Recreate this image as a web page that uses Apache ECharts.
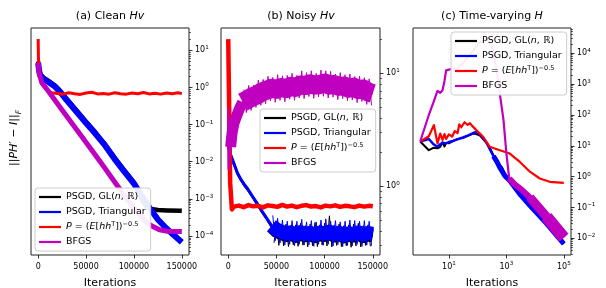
<!DOCTYPE html>
<html>
<head>
<meta charset="utf-8">
<script src="https://cdn.jsdelivr.net/npm/echarts@6/dist/echarts.min.js"></script>
<style>
  html, body { margin: 0; padding: 0; background: #fff; }
  #chart { width: 606px; height: 288px; }
</style>
</head>
<body>
<div id="chart"></div>
<script>
// ---- names / tick labels ----
const names = ['PSGD, GL(n, R)', 'PSGD, Triangular', 'P = (E[hh^T])^-0.5', 'BFGS'];
const iterTicks = [0, 50000, 100000, 150000];
const aYTicks = [1e-4, 1e-3, 1e-2, 1e-1, 1, 10];
const bTwinTicks = [1, 10];
const cYTicks = [1e-2, 1e-1, 1, 10, 100, 1000, 10000];
const cXTicks = [10, 1000, 100000];

// ---- (a) Clean Hv ----
const aBlackX = [0, 1000, 2100, 5500, 10700, 17600, 22800, 27900, 38300, 50000, 59000, 70000, 79700, 90000, 100400, 105000, 109000, 113000, 118000, 125000, 135000, 150000];
const aBlackY = [5.0, 3.1, 2.3, 1.85, 1.5, 1.12, 0.82, 0.56, 0.27, 0.12, 0.065, 0.029, 0.013, 0.0058, 0.0027, 0.0015, 0.00088, 0.00063, 0.00054, 0.0005, 0.00049, 0.00048];
const aBlueX = [0, 1000, 2100, 5500, 10700, 17600, 22800, 27900, 38300, 50000, 59000, 70000, 79700, 90000, 100400, 110000, 118000, 125000, 132000, 140000, 150000];
const aBlueY = [4.5, 2.8, 2.1, 1.7, 1.4, 1.05, 0.76, 0.52, 0.25, 0.11, 0.06, 0.027, 0.012, 0.0054, 0.0025, 0.001, 0.0005, 0.00028, 0.00018, 0.000115, 0.000068];
const aRedX = [0, 300, 1000, 2100, 4500, 7200, 10500, 14000, 20000, 26000, 32000, 38000, 44000, 50000, 56000, 62000, 68000, 74000, 80000, 86000, 92000, 98000, 104000, 110000, 116000, 122000, 128000, 134000, 140000, 146000, 150000];
const aRedY = [20, 5.7, 3.2, 2.0, 1.3, 0.98, 0.82, 0.72, 0.69, 0.66, 0.72, 0.68, 0.65, 0.71, 0.74, 0.67, 0.69, 0.66, 0.72, 0.68, 0.66, 0.71, 0.68, 0.73, 0.67, 0.7, 0.66, 0.71, 0.68, 0.72, 0.68];
const aBfgsX = [0, 1000, 3700, 10700, 24400, 45100, 65800, 83100, 95500, 105900, 112800, 118300, 126600, 135000, 150000];
const aBfgsY = [4.6, 2.5, 1.35, 0.79, 0.26, 0.049, 0.0093, 0.0022, 0.00079, 0.00038, 0.00024, 0.00019, 0.000148, 0.000135, 0.000132];

// ---- (b) Noisy Hv : mean curves ----
const bIterX = [0, 600, 1500, 3400, 6000, 9600, 13000, 16900, 20000, 25000, 30000, 35000, 40000,
  45000, 50000, 55000, 60000, 65000, 70000, 75000, 80000, 85000, 90000, 95000,
  100000, 105000, 110000, 115000, 120000, 125000, 130000, 135000, 140000, 145000, 150000];
const bBlackY = [0.048, 0.024, 0.017, 0.013, 0.0085, 0.0048, 0.0033, 0.0023, 0.0018, 0.00115, 0.00072, 0.00045, 0.00029,
  0.00018, 0.000135, 0.000117, 0.000104, 0.000112, 0.000098, 0.000113, 0.000102, 0.000108, 0.000097, 0.00011,
  0.000104, 0.000117, 0.0001, 0.00011, 0.000095, 0.000106, 0.0001, 0.000112, 0.000097, 0.000107, 0.000102];
const bBlueY = [0.05, 0.025, 0.0178, 0.0135, 0.0089, 0.005, 0.0034, 0.0024, 0.0019, 0.0012, 0.00076, 0.00047, 0.0003,
  0.00019, 0.000151, 0.000132, 0.000118, 0.000126, 0.00011, 0.000128, 0.000115, 0.000122, 0.000108, 0.000125,
  0.000118, 0.000132, 0.000112, 0.000124, 0.000106, 0.000119, 0.000113, 0.000127, 0.000109, 0.000121, 0.000115];
const bRedX = [0, 2000, 3800, 6000, 11000, 16000, 21000, 26000, 31000, 36000, 41000, 46000, 51000, 56000, 61000, 66000, 71000, 76000, 81000, 86000, 91000, 96000, 101000, 106000, 111000, 116000, 121000, 126000, 131000, 136000, 141000, 146000, 150000];
const bRedY = [20, 0.0027, 0.00052, 0.00062, 0.00066, 0.0006, 0.00068, 0.00063, 0.00065, 0.00059, 0.00067, 0.00064, 0.00061, 0.00069, 0.00062, 0.00066, 0.0006, 0.00065, 0.00068, 0.00062, 0.00064, 0.00059, 0.00066, 0.00063, 0.00067, 0.00061, 0.00065, 0.00063, 0.0006, 0.00066, 0.00062, 0.00065, 0.00063];
const bBfgsX = [0, 300, 1200, 2500, 4000, 6000, 9000, 12000,
  15000, 20000, 25000, 30000, 35000, 40000, 45000, 50000, 55000, 60000, 65000, 70000, 75000, 80000,
  85000, 90000, 95000, 100000, 105000, 110000, 115000, 120000, 125000, 130000, 135000, 140000, 145000, 150000];
const bBfgsY = [0.28, 0.0063, 0.012, 0.025, 0.06, 0.11, 0.18, 0.28,
  0.4, 0.47, 0.56, 0.63, 0.76, 0.85, 0.95, 0.89, 1.0, 0.93, 1.07, 1.0, 1.17, 1.12,
  1.26, 1.15, 1.2, 1.32, 1.15, 1.2, 1.07, 1.1, 0.95, 1.02, 0.87, 0.91, 0.76, 0.69];

// ---- (b) Noisy Hv : noise extremes (alternating high / low samples) ----
const bBlackNoiseX = [47500, 50000, 52500, 55000, 57500, 60000, 62500, 65000, 67500, 70000, 72500, 75000, 77500, 80000,
  82500, 85000, 87500, 90000, 92500, 95000, 97500, 100000, 102500, 105000, 107500, 110000, 112500, 115000,
  117500, 120000, 122500, 125000, 127500, 130000, 132500, 135000, 137500, 140000, 142500, 145000, 147500];
const bBlackNoiseY = [0.000066, 0.00024, 0.000056, 0.0002, 0.000054, 0.00021, 0.000052, 0.00019, 0.000058, 0.0002, 0.000053, 0.00022, 0.000057, 0.00019,
  0.000051, 0.00021, 0.000055, 0.00023, 0.000052, 0.0002, 0.000057, 0.00022, 0.000054, 0.00035, 0.000051, 0.0002, 0.000056, 0.00021,
  0.000052, 0.00019, 0.000055, 0.0002, 0.00005, 0.00021, 0.000054, 0.00022, 0.000051, 0.00019, 0.000056, 0.0002, 0.000053];
const bBlueNoiseX = [46250, 48750, 51250, 53750, 56250, 58750, 61250, 63750, 66250, 68750, 71250, 73750, 76250, 78750,
  81250, 83750, 86250, 88750, 91250, 93750, 96250, 98750, 101250, 103750, 106250, 108750, 111250, 113750,
  116250, 118750, 121250, 123750, 126250, 128750, 131250, 133750, 136250, 138750, 141250, 143750, 146250, 148750];
const bBlueNoiseY = [0.00036, 0.000075, 0.0003, 0.000065, 0.00027, 0.000058, 0.00025, 0.00006, 0.00026, 0.000055, 0.00025, 0.00006, 0.00028, 0.000057,
  0.00024, 0.000058, 0.00026, 0.000053, 0.00024, 0.00006, 0.00027, 0.000057, 0.00029, 0.00006, 0.00025, 0.000054, 0.00026, 0.000059,
  0.00024, 0.000052, 0.00025, 0.000056, 0.00027, 0.000055, 0.00026, 0.00006, 0.00025, 0.000053, 0.00026, 0.000057, 0.00025, 0.000055];
const bBfgsNoiseX = [16250, 18750, 21250, 23750, 26250, 28750, 31250, 33750, 36250, 38750, 41250, 43750, 46250, 48750,
  51250, 53750, 56250, 58750, 61250, 63750, 66250, 68750, 71250, 73750, 76250, 78750, 81250, 83750,
  86250, 88750, 91250, 93750, 96250, 98750, 101250, 103750, 106250, 108750, 111250, 113750, 116250, 118750,
  121250, 123750, 126250, 128750, 131250, 133750, 136250, 138750, 141250, 143750, 146250, 148750];
const bBfgsNoiseY = [0.88, 0.21, 1.13, 0.24, 1.16, 0.29, 1.58, 0.33, 1.64, 0.36, 2.0, 0.44, 1.86, 0.4,
  2.2, 0.45, 2.06, 0.41, 2.1, 0.48, 2.4, 0.45, 2.1, 0.52, 2.8, 0.5, 2.5, 0.57,
  2.8, 0.51, 2.4, 0.56, 2.95, 0.58, 2.8, 0.52, 2.7, 0.55, 2.3, 0.47, 2.5, 0.5,
  2.2, 0.44, 2.3, 0.46, 1.96, 0.39, 2.0, 0.42, 1.83, 0.35, 1.7, 0.33];

// ---- (c) Time-varying H ----
const cBlackX = [1, 2, 3, 4, 5, 6, 7, 8, 10, 13, 18, 25, 31, 45, 70, 90, 120, 204, 263, 355, 457, 589, 708, 891, 1318, 3162, 6607, 25119, 100000];
const cBlackY = [13.8, 7.2, 8.7, 8.3, 9.3, 13, 9.5, 12.6, 12, 14, 15.8, 17.4, 18.2, 21, 25, 24, 21.4, 12.6, 8.9, 5.0, 2.8, 2.4, 2.0, 1.26, 0.76, 0.26, 0.117, 0.032, 0.0076];
const cBlueX = [1, 2, 3, 4, 5, 6, 8, 10, 13, 18, 31, 45, 70, 91, 120, 155, 204, 263, 355, 457, 589, 891, 1318, 3162, 6607, 25119, 100000];
const cBlueY = [13.8, 16.6, 11, 9.3, 11.2, 12.6, 12, 13.2, 14, 15.8, 18.6, 21.4, 26, 28, 24, 17.4, 12.6, 7.9, 4.6, 3.2, 2.0, 1.05, 0.74, 0.25, 0.115, 0.03, 0.0066];
const cRedX = [1, 2, 3, 4, 5, 6, 7, 8, 10, 13, 16, 20, 23, 27, 35, 45, 54, 62, 70, 91, 155, 263, 589, 1318, 2951, 6607, 14454, 32359, 100000];
const cRedY = [13.8, 20.4, 47, 12, 25, 15.5, 24, 16.6, 23.4, 20, 30, 26, 50, 40, 58, 48, 54, 46, 42, 32, 19.5, 9.3, 7.2, 5.6, 3.0, 1.45, 0.87, 0.68, 0.63];
const cBfgsX = [1, 2, 3, 4, 5, 6, 7, 8, 10, 13, 20, 50, 100, 200, 316, 450, 589, 794, 1000, 1259, 2000, 3162, 6607, 25119, 100000];
const cBfgsY = [13.8, 100, 282, 600, 525, 630, 1260, 2800, 2950, 3100, 3200, 8000, 20000, 30000, 16000, 3160, 500, 69, 5.75, 0.87, 0.55, 0.4, 0.21, 0.05, 0.0105];

const FONT = 'DejaVu Sans';
const colors = {black: '#000000', blue: '#0000ff', red: '#ff0000', bfgs: '#bf00bf'};

const pairs = (xs, ys) => xs.map((x, i) => [x, ys[i]]);

// grid -> yAxis index the data is drawn on
const dataAxis = [0, 2, 5];

function line(name, color, grid, xs, ys, width, keep) {
  let data = pairs(xs, ys);
  if (keep) data = data.filter(p => keep(p[0]));
  return {
    type: 'line', name: name, xAxisIndex: grid, yAxisIndex: dataAxis[grid],
    data: data, symbol: 'none', showSymbol: false, silent: true,
    itemStyle: {color: color},
    lineStyle: {color: color, width: width, join: 'round', cap: 'butt'}
  };
}

function expLabel(v) {
  const e = Math.round(Math.log10(v));
  return '10{s|' + String(e).replace('-', '\u2212') + '}';
}

const tickLine = {color: '#000', width: 0.8};
const labelStyle = {
  fontFamily: FONT, fontSize: 8, color: '#000', lineHeight: 11,
  rich: {s: {fontFamily: FONT, fontSize: 5.6, verticalAlign: 'top', lineHeight: 6, color: '#000'}}
};
const noLine = {show: false, onZero: false};

function minorTicks(lo, hi) {
  const t = [];
  for (let e = lo; e <= hi; e++) {
    for (let m = 2; m <= 9; m++) t.push(m * Math.pow(10, e));
  }
  return t;
}

function logY(grid, min, max, pos, ticks) {
  return {
    gridIndex: grid, type: 'log', position: pos, min: min, max: max,
    axisLine: noLine, splitLine: {show: false},
    axisTick: {show: true, length: 3.5, lineStyle: tickLine, customValues: ticks},
    axisLabel: Object.assign({margin: 6, customValues: ticks, formatter: expLabel}, labelStyle)
  };
}

function minorY(grid, min, max, pos, lo, hi) {
  return {
    gridIndex: grid, type: 'log', position: pos, min: min, max: max,
    axisLine: noLine, splitLine: {show: false}, axisLabel: {show: false},
    axisTick: {show: true, length: 2, lineStyle: {color: '#000', width: 0.6}, customValues: minorTicks(lo, hi)}
  };
}

const axisName = {
  name: 'Iterations', nameLocation: 'middle', nameGap: 23,
  nameTextStyle: {fontFamily: FONT, fontSize: 11, color: '#000'}
};

function iterAxis(grid) {
  return Object.assign({
    gridIndex: grid, type: 'value', min: -7500, max: 157500,
    axisLine: noLine, splitLine: {show: false},
    axisTick: {show: true, length: 3.5, lineStyle: tickLine, customValues: iterTicks},
    axisLabel: Object.assign({margin: 6, customValues: iterTicks, formatter: v => String(v)}, labelStyle)
  }, axisName);
}

const aMin = 3.09e-5, aMax = 39.8;
const bTwinMin = 0.2443, bTwinMax = 25.23;
const cMin = 0.00288, cMax = 66069;

const legendText = {
  'PSGD, GL(n, R)': 'PSGD, GL({i|n}, \u211D)',
  'PSGD, Triangular': 'PSGD, Triangular',
  'P = (E[hh^T])^-0.5': '{i|P} = ({i|E}[{i|hh}{s|T}]){s|\u22120.5}',
  'BFGS': 'BFGS'
};

function legend(left, top) {
  return {
    data: names, left: left, top: top, orient: 'vertical',
    icon: 'rect', itemWidth: 22, itemHeight: 2.2, itemGap: 3,
    padding: [3, 5, 3, 4], selectedMode: false, z: 10,
    backgroundColor: 'rgba(255,255,255,0.92)', borderColor: '#cccccc', borderWidth: 1, borderRadius: 3,
    formatter: n => legendText[n],
    textStyle: {
      fontFamily: FONT, fontSize: 9.5, color: '#000', lineHeight: 12,
      rich: {
        i: {fontFamily: FONT, fontSize: 9.5, fontStyle: 'italic', color: '#000'},
        s: {fontFamily: FONT, fontSize: 6.5, verticalAlign: 'top', lineHeight: 7, color: '#000'}
      }
    }
  };
}

function title(x, text) {
  return {
    type: 'text', x: x, y: 16, silent: true,
    style: {
      text: text, fill: '#000', fontFamily: FONT, fontSize: 11,
      align: 'center', verticalAlign: 'middle', textAlign: 'center', textVerticalAlign: 'middle',
      rich: {i: {fontFamily: FONT, fontSize: 11, fontStyle: 'italic', fill: '#000'}}
    }
  };
}

const gridBase = {top: 28, bottom: 33, show: true, borderColor: '#222', borderWidth: 1, outerBoundsMode: 'none', containLabel: false};

const chart = echarts.init(document.getElementById('chart'));
chart.setOption({
  animation: false,
  backgroundColor: '#fff',
  grid: [
    Object.assign({left: 31, right: 417}, gridBase),
    Object.assign({left: 221, right: 226}, gridBase),
    Object.assign({left: 413, right: 35}, gridBase)
  ],
  xAxis: [
    iterAxis(0),
    iterAxis(1),
    Object.assign({
      gridIndex: 2, type: 'log', min: 0.5623, max: 177828,
      axisLine: noLine, splitLine: {show: false},
      axisTick: {show: true, length: 3.5, lineStyle: tickLine, customValues: cXTicks},
      axisLabel: Object.assign({margin: 6, customValues: cXTicks, formatter: expLabel}, labelStyle)
    }, axisName)
  ],
  yAxis: [
    logY(0, aMin, aMax, 'right', aYTicks),
    minorY(0, aMin, aMax, 'right', -5, 1),
    {gridIndex: 1, type: 'log', position: 'left', min: aMin, max: aMax, show: false, axisLine: noLine},
    logY(1, bTwinMin, bTwinMax, 'right', bTwinTicks),
    minorY(1, bTwinMin, bTwinMax, 'right', -1, 1),
    logY(2, cMin, cMax, 'right', cYTicks),
    minorY(2, cMin, cMax, 'right', -3, 4)
  ],
  legend: [legend(35, 188), legend(260, 109), legend(451, 32)],
  graphic: [
    title(110, '(a) Clean {i|Hv}'),
    title(301, '(b) Noisy {i|Hv}'),
    title(492, '(c) Time-varying {i|H}'),
    {
      type: 'text', x: 14, y: 138, rotation: Math.PI / 2, silent: true,
      style: {
        text: '||{i|PH}\u2032 \u2212 {i|I}||{f|F}', fill: '#000', fontFamily: FONT, fontSize: 11,
        align: 'center', verticalAlign: 'middle', textAlign: 'center', textVerticalAlign: 'middle',
        rich: {
          i: {fontFamily: FONT, fontSize: 11, fontStyle: 'italic', fill: '#000'},
          f: {fontFamily: FONT, fontSize: 7.5, fontStyle: 'italic', fill: '#000', verticalAlign: 'bottom', lineHeight: 18}
        }
      }
    }
  ],
  series: [
    // (a)
    line(names[0], colors.black, 0, aBlackX, aBlackY, 4.5),
    line(names[1], colors.blue, 0, aBlueX, aBlueY, 6),
    line(names[2], colors.red, 0, aRedX, aRedY, 3),
    line(names[3], colors.bfgs, 0, aBfgsX, aBfgsY, 5),
    // (b): thin early curve, thick noisy band, thin spikes
    line(names[0], colors.black, 1, bIterX, bBlackY, 2.5),
    line(names[0], colors.black, 1, bIterX, bBlackY, 13, x => x >= 45000),
    line(names[0], colors.black, 1, bBlackNoiseX, bBlackNoiseY, 1),
    line(names[1], colors.blue, 1, bIterX, bBlueY, 3),
    line(names[1], colors.blue, 1, bIterX, bBlueY, 14, x => x >= 45000),
    line(names[1], colors.blue, 1, bBlueNoiseX, bBlueNoiseY, 1),
    line(names[2], colors.red, 1, bRedX, bRedY, 4.5),
    line(names[3], colors.bfgs, 1, bBfgsX, bBfgsY, 2),
    line(names[3], colors.bfgs, 1, bBfgsX, bBfgsY, 11, x => x >= 2500 && x <= 15000),
    line(names[3], colors.bfgs, 1, bBfgsX, bBfgsY, 19, x => x >= 15000),
    line(names[3], colors.bfgs, 1, bBfgsNoiseX, bBfgsNoiseY, 1),
    // (c): BFGS band widens towards the end
    line(names[0], colors.black, 2, cBlackX, cBlackY, 2),
    line(names[1], colors.blue, 2, cBlueX, cBlueY, 2.5),
    line(names[1], colors.blue, 2, cBlueX, cBlueY, 5, x => x >= 355),
    line(names[2], colors.red, 2, cRedX, cRedY, 2.2),
    line(names[3], colors.bfgs, 2, cBfgsX, cBfgsY, 2.2),
    line(names[3], colors.bfgs, 2, cBfgsX, cBfgsY, 6, x => x >= 1259),
    line(names[3], colors.bfgs, 2, cBfgsX, cBfgsY, 9, x => x >= 6607),
    line(names[3], colors.bfgs, 2, cBfgsX, cBfgsY, 12, x => x >= 25119)
  ]
});
</script>
</body>
</html>
